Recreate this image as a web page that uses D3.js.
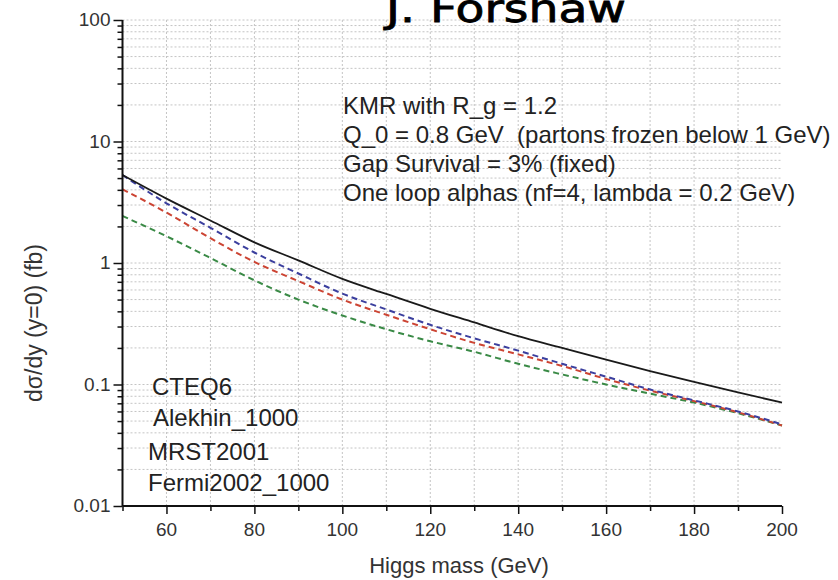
<!DOCTYPE html>
<html><head><meta charset="utf-8">
<script src="https://cdn.jsdelivr.net/npm/d3@7"></script>
<style>
body{margin:0;background:#fff;}
svg text{font-family:"Liberation Sans",Arial,sans-serif;white-space:pre;}
</style></head>
<body><svg id="c" width="838" height="580"></svg>
<script>
const masses = [50,60,70,80,90,100,110,120,130,140,150,160,170,180,190,200];
const cteq6    = [5.3,3.39,2.24,1.48,1.05,0.74,0.556,0.42,0.324,0.25,0.20,0.16,0.129,0.105,0.086,0.071];
const alekhin  = [5.3,3.1,1.95,1.22,0.82,0.56,0.415,0.31,0.24,0.19,0.148,0.116,0.091,0.074,0.06,0.047];
const mrst     = [4.04,2.6,1.6,1.02,0.71,0.50,0.375,0.285,0.22,0.177,0.142,0.111,0.089,0.073,0.059,0.046];
const fermi    = [2.44,1.66,1.1,0.72,0.50,0.37,0.285,0.227,0.186,0.148,0.121,0.10,0.084,0.071,0.058,0.046];
const legendLabels = ["CTEQ6","Alekhin_1000","MRST2001","Fermi2002_1000"];
const notes = ["KMR with R_g = 1.2","Q_0 = 0.8 GeV  (partons frozen below 1 GeV)","Gap Survival = 3% (fixed)","One loop alphas (nf=4, lambda = 0.2 GeV)"];
const xTicks = [60,80,100,120,140,160,180,200];
const yTicks = [0.01,0.1,1,10,100];
const yTickLabels = ["0.01","0.1","1","10","100"];

const svg = d3.select("#c");
const L=122.5, R=782, T=20, B=506;
const x = d3.scaleLinear().domain([50,200]).range([L,R]);
const y = d3.scaleLog().domain([0.01,100]).range([B,T]);

// grid
const grid = svg.append("g");
d3.range(60,200,10).forEach(v=>{
  grid.append("line").attr("x1",x(v)).attr("x2",x(v)).attr("y1",T).attr("y2",B)
    .attr("stroke","#c4c4c4").attr("stroke-width",1).attr("stroke-dasharray","2,2");
});
const minorVals=[];
[0.01,0.1,1,10].forEach(d=>{for(let k=1;k<=9;k++) minorVals.push(d*k);});
minorVals.push(100);
minorVals.forEach(v=>{
  if(v<=0.01) return;
  grid.append("line").attr("x1",L).attr("x2",R).attr("y1",y(v)).attr("y2",y(v))
    .attr("stroke","#c4c4c4").attr("stroke-width",1).attr("stroke-dasharray","2,2");
});

// curves
const line = d3.line().x(d=>x(d[0])).y(d=>y(d[1])).curve(d3.curveMonotoneX);
const series = [
  {v:cteq6,c:"#1a1a1a",dash:null,w:1.8},
  {v:alekhin,c:"#3b3f9e",dash:"6,4",w:2},
  {v:mrst,c:"#cc4433",dash:"6,4",w:2},
  {v:fermi,c:"#3a8a46",dash:"6,4",w:2}
];
series.slice().reverse().forEach(s=>{
  svg.append("path").datum(masses.map((m,i)=>[m,s.v[i]])).attr("d",line)
    .attr("fill","none").attr("stroke",s.c).attr("stroke-width",s.w)
    .attr("stroke-dasharray",s.dash);
});

// axes
const xAxis = d3.axisBottom(x).tickValues(d3.range(50,201,10)).tickSize(5).tickFormat("");
const gx = svg.append("g").attr("transform",`translate(0,${B})`).call(xAxis);
gx.selectAll(".tick line").attr("y2",d=>d%20===0?8:5).attr("stroke","#111").attr("stroke-width",1.5);
gx.select(".domain").attr("stroke","#111").attr("stroke-width",2).attr("d",`M${L},0H${R}`);
svg.append("g").selectAll("text").data(xTicks).join("text")
  .attr("x",d=>x(d)).attr("y",B+30).attr("text-anchor","middle")
  .attr("font-size",19).attr("fill","#333").text(d=>d);

const yAxis = d3.axisLeft(y).tickValues(minorVals).tickSize(5).tickFormat("");
const gy = svg.append("g").attr("transform",`translate(${L},0)`).call(yAxis);
gy.selectAll(".tick line").attr("x2",d=>yTicks.some(t=>Math.abs(t-d)<1e-9)?-9:-5).attr("stroke","#111").attr("stroke-width",1.5);
gy.select(".domain").attr("stroke","#111").attr("stroke-width",2).attr("d",`M0,${B}V${T}`);
svg.append("g").selectAll("text").data(yTicks).join("text")
  .attr("x",L-12).attr("y",d=>y(d)+6).attr("text-anchor","end")
  .attr("font-size",19).attr("fill","#333").text((d,i)=>yTickLabels[i]);

// axis titles
svg.append("text").attr("x",459).attr("y",573).attr("text-anchor","middle")
  .attr("font-size",22).attr("fill","#333").text("Higgs mass (GeV)");
svg.append("text").attr("transform","translate(42,323) rotate(-90)").attr("text-anchor","middle")
  .attr("font-size",23).attr("fill","#333").text("dσ/dy (y=0) (fb)");

// title
svg.append("text").attr("x",386).attr("y",22).attr("font-size",38)
  .attr("textLength",240).attr("lengthAdjust","spacingAndGlyphs")
  .attr("stroke","#000").attr("stroke-width",0.8)
  .style("font-family","'Comic Sans MS','DejaVu Sans',sans-serif").attr("fill","#000").text("J. Forshaw");

// notes
svg.append("g").selectAll("text").data(notes).join("text")
  .attr("x",343).attr("y",(d,i)=>114+i*29).attr("font-size",24).attr("fill","#222").text(d=>d);

// legend labels
const legX=[152,153,148,148], legY=[395,426,460,491];
svg.append("g").selectAll("text").data(legendLabels).join("text")
  .attr("x",(d,i)=>legX[i]).attr("y",(d,i)=>legY[i]).attr("font-size",24).attr("fill","#222").text(d=>d);
</script></body></html>
